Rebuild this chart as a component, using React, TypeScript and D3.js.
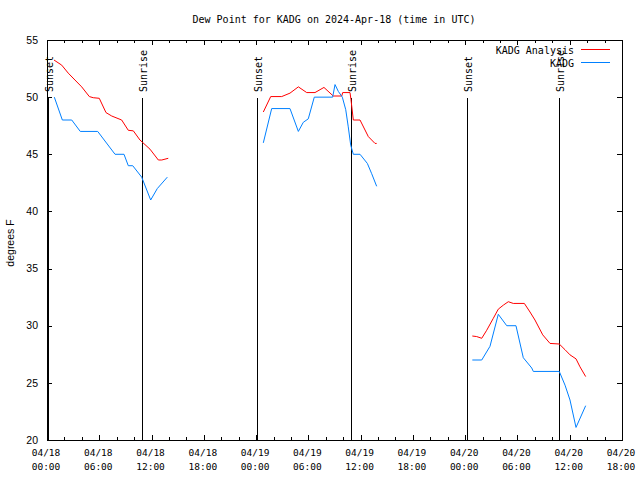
import React from "react";
import * as d3 from "d3";

// Hours since 2024-04-18 00:00 UTC
const analysisTimes: (number | null)[] = [
  0.8, 1.69, 2.44, 3.21, 3.98, 4.86, 5.31, 6.0, 6.77, 7.43, 8.57, 9.33, 9.91, 10.67, 11.82, 12.78, 13.17, 13.92,
  null,
  24.83, 25.68, 26.94, 27.89, 28.85, 29.81, 30.76, 31.79, 32.86, 33.83, 33.94, 34.78, 34.89, 35.16, 35.93, 36.88, 37.65, 37.84,
  null,
  48.82, 49.32, 49.9, 50.47, 51.23, 51.8, 52.38, 52.95, 53.52, 54.79, 55.44, 56.01, 56.9, 57.74, 58.8, 59.46, 60.03, 60.72, 61.18, 61.83,
];
const analysisValues: (number | null)[] = [
  53.25, 52.8, 52.1, 51.5, 50.9, 50.05, 49.95, 49.9, 48.65, 48.35, 48.0, 47.1, 47.05, 46.25, 45.45, 44.5, 44.5, 44.65,
  null,
  48.7, 50.05, 50.05, 50.35, 50.9, 50.4, 50.4, 50.85, 50.1, 50.1, 50.4, 50.4, 49.8, 48.0, 48.0, 46.55, 45.95, 45.95,
  null,
  29.1, 29.05, 28.9, 29.6, 30.65, 31.45, 31.8, 32.1, 31.95, 31.95, 31.2, 30.5, 29.2, 28.45, 28.4, 27.9, 27.45, 27.1, 26.4, 25.55,
];

const obsTimes: (number | null)[] = [
  0.84, 1.76, 2.84, 3.82, 5.82, 7.81, 8.84, 9.33, 9.84, 10.87, 11.9, 12.66, 13.81,
  null,
  24.83, 25.79, 27.89, 28.85, 29.42, 29.99, 30.68, 32.79, 33.06, 33.44, 33.9, 34.29, 34.58, 34.86, 35.16, 35.93, 36.77, 37.27, 37.84,
  null,
  48.82, 49.9, 50.85, 51.8, 52.77, 53.83, 54.67, 55.64, 55.82, 58.8, 59.46, 60.03, 60.72, 61.83,
];
const obsValues: (number | null)[] = [
  50, 48, 48, 47, 47, 45, 45, 44, 44, 43, 41, 42, 43,
  null,
  46, 49, 49, 47, 47.8, 48.1, 50, 50, 51.1, 50.5, 50, 48.9, 47.4, 45.8, 45, 45, 44.2, 43.3, 42.2,
  null,
  27, 27, 28.2, 31, 30, 30, 27.2, 26.3, 26, 26, 24.8, 23.5, 21.1, 23,
];

const sunLabels = ["Sunset", "Sunrise", "Sunset", "Sunrise", "Sunset", "Sunrise"];
const sunTimes = [0.15, 10.87, 24.14, 34.86, 48.24, 58.8];

const yTicks = [20, 25, 30, 35, 40, 45, 50, 55];
const seriesNames = ["KADG Analysis", "KADG"];
const seriesColors = ["#ff0000", "#0080ff"];

const startDate = new Date(Date.UTC(2024, 3, 18, 0, 0));
const endDate = new Date(Date.UTC(2024, 3, 20, 18, 0));
const hourToDate = (h: number) => new Date(startDate.getTime() + h * 3600000);

export default function App() {
  const left = 47, right = 622, top = 40, bottom = 440;
  const x = d3.scaleUtc().domain([startDate, endDate]).range([left, right]);
  const y = d3.scaleLinear().domain([20, 55]).range([bottom, top]);

  const mk = (ts: (number | null)[], vs: (number | null)[]) =>
    ts.map((t, i) => ({ t, v: vs[i] }));
  const line = d3
    .line<{ t: number | null; v: number | null }>()
    .defined((d) => d.t != null && d.v != null)
    .x((d) => x(hourToDate(d.t as number)))
    .y((d) => y(d.v as number));

  const majorTicks = x.ticks(d3.utcHour.every(6) as any);
  const minorTicks = x.ticks(d3.utcHour.every(2) as any);
  const fmtDay = d3.utcFormat("%m/%d");
  const fmtHour = d3.utcFormat("%H:%M");

  const mono = "'DejaVu Sans Mono', monospace";
  const sans = "'Liberation Sans', Arial, sans-serif";

  return (
    <svg
      width={640}
      height={480}
      style={{ position: "absolute", left: 0, top: 0, background: "#fff" }}
    >
      <rect x={0} y={0} width={640} height={480} fill="#fff" />
      <text x={334} y={23} textAnchor="middle" fontFamily={mono} fontSize={10} fill="#000">
        Dew Point for KADG on 2024-Apr-18 (time in UTC)
      </text>

      {/* y ticks */}
      {yTicks.map((t) => (
        <g key={"y" + t} shapeRendering="crispEdges">
          <line x1={left} x2={left + 5} y1={Math.round(y(t)) + 0.5} y2={Math.round(y(t)) + 0.5} stroke="#000" />
          <line x1={right} x2={right - 5} y1={Math.round(y(t)) + 0.5} y2={Math.round(y(t)) + 0.5} stroke="#000" />
          <text x={38} y={y(t)} dy="0.35em" textAnchor="end" fontFamily={sans} fontSize={10.5} fill="#000">
            {t}
          </text>
        </g>
      ))}

      {/* x ticks */}
      {minorTicks.map((d, i) => {
        const xx = Math.round(x(d)) + 0.5;
        return (
          <g key={"m" + i} shapeRendering="crispEdges">
            <line x1={xx} x2={xx} y1={bottom} y2={bottom - 3} stroke="#000" />
            <line x1={xx} x2={xx} y1={top} y2={top + 3} stroke="#000" />
          </g>
        );
      })}
      {majorTicks.map((d, i) => {
        const xx = Math.round(x(d)) + 0.5;
        return (
          <g key={"M" + i}>
            <line x1={xx} x2={xx} y1={bottom} y2={bottom - 5} stroke="#000" shapeRendering="crispEdges" />
            <line x1={xx} x2={xx} y1={top} y2={top + 5} stroke="#000" shapeRendering="crispEdges" />
            <text x={x(d) - 1} y={456} textAnchor="middle" fontFamily={mono} fontSize={9.5} fill="#000">
              {fmtDay(d)}
            </text>
            <text x={x(d) - 1} y={470} textAnchor="middle" fontFamily={mono} fontSize={9.5} fill="#000">
              {fmtHour(d)}
            </text>
          </g>
        );
      })}

      <text
        transform={`translate(14,243) rotate(-90)`}
        textAnchor="middle"
        fontFamily={sans}
        fontSize={10.5}
        fill="#000"
      >
        degrees F
      </text>

      {/* sun events */}
      {sunTimes.map((h, i) => {
        const xx = Math.round(x(hourToDate(h))) + 0.5;
        return (
          <g key={"s" + i}>
            <line x1={xx} x2={xx} y1={98} y2={bottom} stroke="#000" shapeRendering="crispEdges" />
            <text
              transform={`translate(${xx + 1},92) rotate(-90)`}
              textAnchor="start"
              dominantBaseline="central"
              fontFamily={mono}
              fontSize={10}
              fill="#000"
            >
              {sunLabels[i]}
            </text>
          </g>
        );
      })}

      {/* series */}
      <path d={line(mk(analysisTimes, analysisValues)) || ""} fill="none" stroke={seriesColors[0]} strokeWidth={1} />
      <path d={line(mk(obsTimes, obsValues)) || ""} fill="none" stroke={seriesColors[1]} strokeWidth={1} />

      {/* legend */}
      {seriesNames.map((n, i) => (
        <g key={n}>
          <text x={574} y={50 + i * 13} dy="0.35em" textAnchor="end" fontFamily={mono} fontSize={10} fill="#000">
            {n}
          </text>
          <line x1={581} x2={610} y1={49.5 + i * 13} y2={49.5 + i * 13} stroke={seriesColors[i]} shapeRendering="crispEdges" />
        </g>
      ))}

      {/* frame */}
      <rect
        x={left + 0.5}
        y={top + 0.5}
        width={right - left}
        height={bottom - top}
        fill="none"
        stroke="#000"
        shapeRendering="crispEdges"
      />
    </svg>
  );
}
